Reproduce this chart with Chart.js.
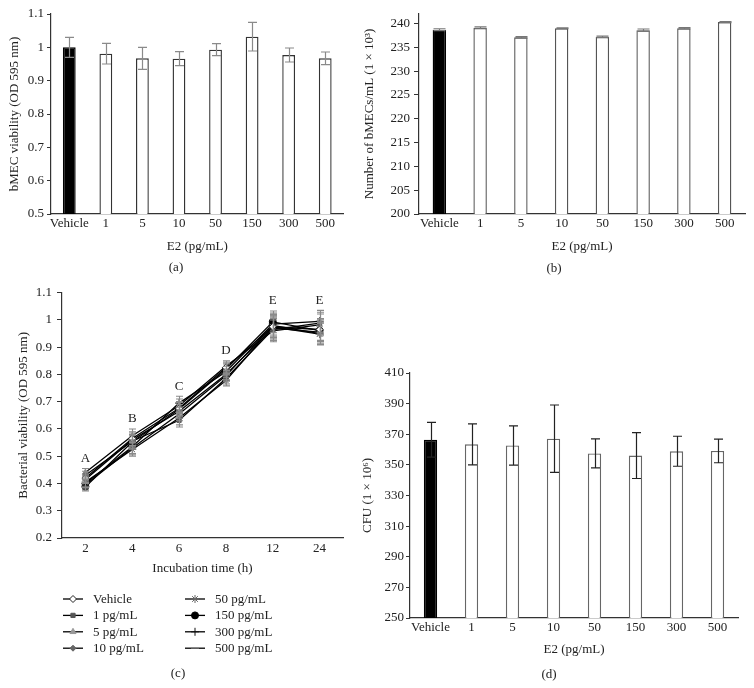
<!DOCTYPE html>
<html><head><meta charset="utf-8">
<script src="https://cdn.jsdelivr.net/npm/chart.js@4/dist/chart.umd.min.js"></script>
<style>
html,body{margin:0;padding:0;background:#fff;}
#wrap{position:relative;width:754px;height:688px;background:#fff;}
#wrap canvas{position:absolute;left:0;top:0;}
</style></head><body>
<div id="wrap">
<canvas id="ca" width="754" height="688"></canvas>
<canvas id="cb" width="754" height="688"></canvas>
<canvas id="cc" width="754" height="688"></canvas>
<canvas id="cd" width="754" height="688"></canvas>
</div>
<script>
// ---------- DATA ----------
const doseLabels = ['Vehicle', '1', '5', '10', '50', '150', '300', '500'];

// (a) bMEC viability (OD 595 nm)
const viabilityA    = [1.000, 0.981, 0.967, 0.966, 0.993, 1.032, 0.977, 0.967];
const viabilityAErr = [0.030, 0.031, 0.033, 0.021, 0.018, 0.043, 0.021, 0.019];

// (b) Number of bMECs/mL (1 x 10^3)
const cellsB    = [238.7, 239.1, 237.1, 239.0, 237.2, 238.6, 239.0, 240.3];
const cellsBErr = [0.2, 0.2, 0.15, 0.1, 0.15, 0.25, 0.15, 0.1];

// (c) Bacterial viability over incubation time
const timeLabels = ['2', '4', '6', '8', '12', '24'];
const seriesNames = ['Vehicle', '1 pg/mL', '5 pg/mL', '10 pg/mL', '50 pg/mL', '150 pg/mL', '300 pg/mL', '500 pg/mL'];
const vehicleC = [0.420, 0.565, 0.676, 0.825, 0.975, 0.965];
const pg1C     = [0.430, 0.555, 0.632, 0.785, 0.965, 0.988];
const pg5C     = [0.440, 0.575, 0.685, 0.830, 0.960, 0.982];
const pg10C    = [0.415, 0.560, 0.665, 0.800, 0.970, 0.955];
const pg50C    = [0.405, 0.525, 0.640, 0.778, 0.975, 0.948];
const pg150C   = [0.388, 0.552, 0.672, 0.819, 0.993, 0.961];
const pg300C   = [0.400, 0.535, 0.695, 0.810, 0.985, 0.995];
const pg500C   = [0.395, 0.530, 0.655, 0.795, 0.980, 0.950];
const errC     = [0.015, 0.025, 0.025, 0.020, 0.040, 0.040];
const groupLetters = ['A', 'B', 'C', 'D', 'E', 'E'];

// (d) CFU (1 x 10^6)
const cfuD    = [366.4, 363.4, 362.7, 367.1, 357.5, 356.1, 358.9, 359.1];
const cfuDErr = [11.3, 13.4, 12.8, 22.0, 9.5, 15.0, 9.8, 7.7];

// ---------- STYLE / HELPERS ----------
const FONT = "'Liberation Serif', 'Times New Roman', Times, serif";
const TXT = '#222';
const AX = '#333';
const W = 754, H = 688;
function f(size) { return { family: FONT, size: size, lineHeight: 1.2 }; }
function fmt(v) { return String(Number(Number(v).toFixed(3))); }

const errorBarPlugin = {
  id: 'errorBars',
  afterDatasetsDraw(chart, args, opts) {
    const ctx = chart.ctx;
    chart.data.datasets.forEach((ds, di) => {
      if (!ds.err) return;
      const meta = chart.getDatasetMeta(di);
      const ys = chart.scales[meta.yAxisID];
      ctx.save();
      ctx.strokeStyle = opts.color || '#888';
      ctx.lineWidth = opts.width || 1.2;
      const cw = opts.cap || 4;
      meta.data.forEach((el, i) => {
        const v = ds.data[i];
        const e = Array.isArray(ds.err) ? ds.err[i] : ds.err;
        const x = Math.round(el.x) + 0.5;
        const yT = ys.getPixelForValue(v + e), yB = ys.getPixelForValue(v - e);
        ctx.beginPath();
        ctx.moveTo(x, yT); ctx.lineTo(x, yB);
        ctx.moveTo(x - cw, yT); ctx.lineTo(x + cw, yT);
        ctx.moveTo(x - cw, yB); ctx.lineTo(x + cw, yB);
        ctx.stroke();
      });
      ctx.restore();
    });
  }
};

const captionPlugin = {
  id: 'caption',
  afterDraw(chart, args, opts) {
    if (!opts || !opts.text) return;
    const ctx = chart.ctx;
    ctx.save();
    ctx.fillStyle = TXT;
    ctx.font = '13px ' + FONT;
    ctx.textAlign = 'center';
    ctx.textBaseline = 'middle';
    ctx.fillText(opts.text, opts.x, opts.y);
    ctx.restore();
  }
};

// geometry: plot rectangle, y-axis box width, x-axis box height
function padFor(plot, yW, xH) {
  return { left: plot.l - yW, top: plot.t, right: W - plot.r, bottom: H - plot.b - xH };
}

function barPanel(id, o) {
  return new Chart(document.getElementById(id), {
    type: 'bar',
    data: {
      labels: doseLabels,
      datasets: [{
        data: o.values,
        err: o.err,
        backgroundColor: doseLabels.map((l, i) => i === 0 ? '#000' : '#fff'),
        borderColor: doseLabels.map((l, i) => i === 0 ? '#000' : o.barBorder),
        borderWidth: 1.4,
        borderSkipped: 'start',
        barPercentage: o.barPct,
        categoryPercentage: 1
      }]
    },
    options: {
      responsive: false, animation: false, devicePixelRatio: 1,
      layout: { padding: padFor(o.plot, o.yW, o.xH) },
      plugins: {
        legend: { display: false }, tooltip: { enabled: false },
        errorBars: { color: o.errColor, cap: o.cap, width: 1.2 },
        caption: o.caption
      },
      scales: {
        x: {
          offset: true,
          grid: { display: false, drawTicks: false },
          border: { color: AX, width: 1.2 },
          ticks: { font: f(13), color: TXT, padding: o.xPad, maxRotation: 0, autoSkip: false },
          title: { display: true, text: 'E2 (pg/mL)', font: f(13), color: TXT, padding: 0 },
          afterFit: s => { s.height = o.xH; }
        },
        y: {
          min: o.min, max: o.max,
          ticks: { stepSize: o.step, includeBounds: false, font: f(13), color: TXT, padding: o.yPad, autoSkip: false, callback: fmt },
          grid: { display: true, drawOnChartArea: false, drawTicks: true, tickLength: o.tick, color: AX },
          border: { color: AX, width: 1.2 },
          title: { display: true, text: o.yTitle, font: f(13), color: TXT, padding: 0 },
          afterFit: s => { s.width = o.yW; }
        }
      }
    },
    plugins: [errorBarPlugin, captionPlugin]
  });
}

// (a)
barPanel('ca', {
  values: viabilityA, err: viabilityAErr,
  plot: { l: 51, r: 343.5, t: 14, b: 214 }, yW: 44, xH: 40.8,
  min: 0.5, max: 1.1, step: 0.1, tick: 4, yPad: 3, xPad: 2,
  barPct: 0.35, barBorder: '#333', errColor: '#8a8a8a', cap: 4.5,
  yTitle: 'bMEC viability (OD 595 nm)',
  caption: { text: '(a)', x: 176, y: 268 }
});

// (b)
barPanel('cb', {
  values: cellsB, err: cellsBErr,
  plot: { l: 419, r: 745, t: 14, b: 214 }, yW: 57, xH: 40.8,
  min: 200, max: 242, step: 5, tick: 5, yPad: 4, xPad: 2,
  barPct: 0.33, barBorder: '#555', errColor: '#777', cap: 6,
  yTitle: 'Number of bMECs/mL (1 × 10³)',
  caption: { text: '(b)', x: 554, y: 269 }
});

// (d)
barPanel('cd', {
  values: cfuD, err: cfuDErr,
  plot: { l: 410, r: 738, t: 373, b: 618 }, yW: 50, xH: 39.8,
  min: 250, max: 410, step: 20, tick: 4, yPad: 2, xPad: 2,
  barPct: 0.325, barBorder: '#666', errColor: '#222', cap: 4.5,
  yTitle: 'CFU (1 × 10⁶)',
  caption: { text: '(d)', x: 549, y: 675 }
});

// (c)
const seriesC = [vehicleC, pg1C, pg5C, pg10C, pg50C, pg150C, pg300C, pg500C];
const markerC = [
  { pointStyle: 'rectRot',  bg: '#fff', bc: '#222', r: 3.5 },
  { pointStyle: 'rect',     bg: '#555', bc: '#555', r: 3 },
  { pointStyle: 'triangle', bg: '#999', bc: '#999', r: 3.5 },
  { pointStyle: 'rectRot',  bg: '#666', bc: '#666', r: 3 },
  { pointStyle: 'star',     bg: '#666', bc: '#666', r: 4 },
  { pointStyle: 'circle',   bg: '#000', bc: '#000', r: 3.5 },
  { pointStyle: 'cross',    bg: '#111', bc: '#111', r: 4 },
  { pointStyle: 'line',     bg: '#777', bc: '#777', r: 4 }
];

const letterPlugin = {
  id: 'letters',
  afterDatasetsDraw(chart) {
    const ctx = chart.ctx;
    const ys = chart.scales.y, xs = chart.scales.x;
    ctx.save();
    ctx.fillStyle = TXT;
    ctx.font = '13px ' + FONT;
    ctx.textAlign = 'center';
    ctx.textBaseline = 'middle';
    groupLetters.forEach((L, i) => {
      let top = -Infinity;
      chart.data.datasets.forEach(ds => { top = Math.max(top, ds.data[i] + ds.err[i]); });
      ctx.fillText(L, xs.getPixelForValue(i), ys.getPixelForValue(top) - 10);
    });
    ctx.restore();
  }
};

const legendPlugin = {
  id: 'legendC',
  afterDraw(chart) {
    const ctx = chart.ctx;
    const cols = [{ x0: 63, x1: 83, tx: 93 }, { x0: 185, x1: 205, tx: 215 }];
    ctx.save();
    ctx.font = '13px ' + FONT;
    ctx.textBaseline = 'middle';
    ctx.textAlign = 'left';
    chart.data.datasets.forEach((ds, i) => {
      const c = cols[Math.floor(i / 4)];
      const y = 599 + (i % 4) * 16.4;
      ctx.strokeStyle = '#000';
      ctx.lineWidth = 1.3;
      ctx.beginPath(); ctx.moveTo(c.x0, y); ctx.lineTo(c.x1, y); ctx.stroke();
      ctx.fillStyle = ds.pointBackgroundColor;
      ctx.strokeStyle = ds.pointBorderColor;
      ctx.lineWidth = 1;
      if (Chart.helpers && Chart.helpers.drawPoint) {
        Chart.helpers.drawPoint(ctx, { pointStyle: ds.pointStyle, rotation: 0, radius: ds.pointRadius, borderWidth: 1 }, (c.x0 + c.x1) / 2, y);
      }
      ctx.fillStyle = TXT;
      ctx.fillText(ds.label, c.tx, y + 0.5);
    });
    ctx.restore();
  }
};

const plotC = { l: 62, r: 343, t: 292.7, b: 538 };
new Chart(document.getElementById('cc'), {
  type: 'line',
  data: {
    labels: timeLabels,
    datasets: seriesC.map((vals, i) => ({
      label: seriesNames[i],
      data: vals,
      err: errC,
      borderColor: '#000',
      borderWidth: 1.3,
      pointStyle: markerC[i].pointStyle,
      pointRadius: markerC[i].r,
      pointBackgroundColor: markerC[i].bg,
      pointBorderColor: markerC[i].bc,
      pointBorderWidth: 1,
      fill: false,
      tension: 0
    }))
  },
  options: {
    responsive: false, animation: false, devicePixelRatio: 1,
    layout: { padding: padFor(plotC, 46.3, 38.8) },
    plugins: {
      legend: { display: false }, tooltip: { enabled: false },
      errorBars: { color: '#8a8a8a', cap: 3.5, width: 1.1 },
      caption: { text: '(c)', x: 178, y: 674 }
    },
    scales: {
      x: {
        offset: true,
        grid: { display: false, drawTicks: false },
        border: { color: AX, width: 1.2 },
        ticks: { font: f(13), color: TXT, padding: 3, maxRotation: 0, autoSkip: false },
        title: { display: true, text: 'Incubation time (h)', font: f(13), color: TXT, padding: 0 },
        afterFit: s => { s.height = 38.8; }
      },
      y: {
        min: 0.2, max: 1.1,
        ticks: { stepSize: 0.1, includeBounds: false, font: f(13), color: TXT, padding: 5, autoSkip: false, callback: fmt },
        grid: { display: true, drawOnChartArea: false, drawTicks: true, tickLength: 5, color: AX },
        border: { color: AX, width: 1.2 },
        title: { display: true, text: 'Bacterial viability (OD 595 nm)', font: f(13), color: TXT, padding: 0 },
        afterFit: s => { s.width = 46.3; }
      }
    }
  },
  plugins: [errorBarPlugin, letterPlugin, legendPlugin, captionPlugin]
});
</script>
</body></html>
